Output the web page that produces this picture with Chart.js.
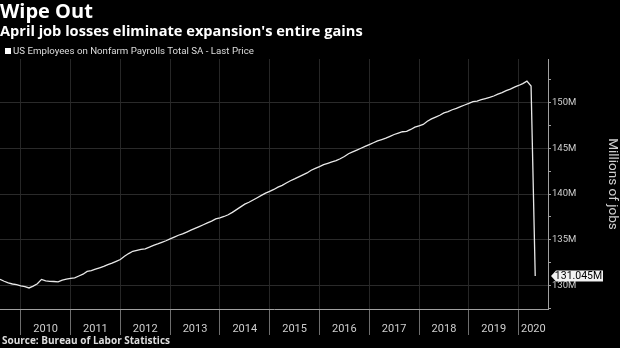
<!DOCTYPE html>
<html>
<head>
<meta charset="utf-8">
<script src="https://cdn.jsdelivr.net/npm/chart.js@4.4.1/dist/chart.umd.min.js"></script>
<style>
  html, body { margin: 0; padding: 0; background: #000; }
  #wrap { position: relative; width: 620px; height: 348px; overflow: hidden; font-family: 'Open Sans', Roboto, sans-serif; color: #fff; }
  #chart { position: absolute; left: 0; top: 0; }
  .title { position: absolute; left: 0px; top: -3px; font-size: 20px; font-weight: 700; white-space: nowrap; }
  .subtitle { position: absolute; left: 0px; top: 20px; font-size: 14.6px; font-weight: 700; white-space: nowrap; }
  .legend { position: absolute; left: 5px; top: 45px; font-family: Roboto, sans-serif; font-size: 9.7px; color: #ddd; white-space: nowrap; }
  .legend i { display: inline-block; width: 6px; height: 6px; background: #fff; margin-right: 2px; vertical-align: 0px; }
  .source { position: absolute; left: 2px; top: 333px; font-size: 10px; font-weight: 700; color: #ddd; white-space: nowrap; }
</style>
</head>
<body>
<div id="wrap">
  <canvas id="chart" width="620" height="348"></canvas>
  <div class="title">Wipe Out</div>
  <div class="subtitle">April job losses eliminate expansion's entire gains</div>
  <div class="legend"><i></i>US Employees on Nonfarm Payrolls Total SA - Last Price</div>
  <div class="source">Source: Bureau of Labor Statistics</div>
</div>
<script>
// Monthly payrolls, millions, Jul 2009 .. Apr 2020
const firstYear = 2009;
const firstMonth = 7;
const payrolls = [
  130.70, 130.48, 130.30, 130.18, 130.10, 129.97,
  129.90, 129.75, 129.95, 130.20, 130.68, 130.52, 130.47, 130.45, 130.42, 130.60, 130.70, 130.80,
  130.85, 131.05, 131.25, 131.55, 131.65, 131.80, 131.95, 132.10, 132.30, 132.45, 132.65, 132.85,
  133.20, 133.50, 133.75, 133.85, 133.95, 134.02, 134.20, 134.40, 134.55, 134.72, 134.90, 135.10,
  135.30, 135.50, 135.65, 135.85, 136.05, 136.25, 136.45, 136.65, 136.85, 137.05, 137.28, 137.40,
  137.55, 137.74, 138.00, 138.30, 138.60, 138.90, 139.10, 139.35, 139.60, 139.85, 140.10, 140.30,
  140.50, 140.75, 140.95, 141.20, 141.45, 141.65, 141.88, 142.10, 142.30, 142.60, 142.80, 143.00,
  143.20, 143.35, 143.50, 143.65, 143.85, 144.10, 144.40, 144.60, 144.80, 145.00, 145.20, 145.40,
  145.60, 145.80, 145.95, 146.10, 146.30, 146.50, 146.65, 146.80, 146.85, 147.05, 147.30, 147.45,
  147.60, 147.95, 148.20, 148.40, 148.60, 148.85, 149.00, 149.20, 149.35, 149.55, 149.72, 149.90,
  150.08, 150.15, 150.30, 150.42, 150.55, 150.70, 150.90, 151.08, 151.28, 151.45, 151.67, 151.85,
  152.05, 152.32, 151.78, 131.045
];
const yearLabels = ['2010', '2011', '2012', '2013', '2014', '2015', '2016', '2017', '2018', '2019', '2020'];
const yTicks = [127.5, 130, 132.5, 135, 137.5, 140, 142.5, 145, 147.5, 150, 152.5];
const lastValueText = '131.045M';

const xMin = 2009.583;
const xMax = 2020.59;
const yMin = 127.45;
const yMax = 154.74;

// points sit at month end, like the terminal does
const points = payrolls.map((v, i) => ({ x: firstYear + (firstMonth + i) / 12, y: v }));
const yearStarts = yearLabels.map(Number);

const yearLabelPlugin = {
  id: 'yearLabels',
  afterDraw(chart) {
    const { ctx, chartArea, scales } = chart;
    ctx.save();
    ctx.fillStyle = '#cfcfcf';
    ctx.font = '11px Roboto, sans-serif';
    ctx.textAlign = 'center';
    ctx.textBaseline = 'middle';
    yearStarts.forEach((yr, i) => {
      const a = Math.max(scales.x.getPixelForValue(yr), chartArea.left);
      const b = Math.min(scales.x.getPixelForValue(yr + 1), chartArea.right);
      ctx.fillText(yearLabels[i], (a + b) / 2, chartArea.bottom + 20);
    });
    ctx.restore();
  }
};

const lastValuePlugin = {
  id: 'lastValue',
  afterDraw(chart) {
    const { ctx, chartArea, scales } = chart;
    const y = scales.y.getPixelForValue(payrolls[payrolls.length - 1]);
    const tip = chartArea.right + 3;
    const left = tip + 5;
    const right = 603;
    const h = 11;
    ctx.save();
    ctx.fillStyle = '#f2f2f2';
    ctx.beginPath();
    ctx.moveTo(tip, y);
    ctx.lineTo(left, y - h / 2);
    ctx.lineTo(right, y - h / 2);
    ctx.lineTo(right, y + h / 2);
    ctx.lineTo(left, y + h / 2);
    ctx.closePath();
    ctx.fill();
    ctx.fillStyle = '#000';
    ctx.font = '10.5px Roboto, sans-serif';
    ctx.textAlign = 'center';
    ctx.textBaseline = 'middle';
    ctx.fillText(lastValueText, (left + right) / 2 - 1, y + 0.5);
    ctx.restore();
  }
};

new Chart(document.getElementById('chart'), {
  type: 'line',
  data: {
    datasets: [{
      label: 'US Employees on Nonfarm Payrolls Total SA - Last Price',
      data: points,
      borderColor: '#e8e8e8',
      borderWidth: 1.3,
      pointRadius: 0,
      tension: 0,
      fill: false,
    }],
  },
  options: {
    responsive: false,
    animation: false,
    layout: { padding: { top: 59, left: 0, right: 0, bottom: 0 } },
    plugins: {
      legend: { display: false },
      tooltip: { enabled: false },
    },
    scales: {
      x: {
        type: 'linear',
        min: xMin,
        max: xMax,
        afterBuildTicks: (s) => { s.ticks = yearStarts.map((v) => ({ value: v })); },
        afterFit: (s) => { s.height = 39; },
        grid: { color: '#262626', tickColor: '#6e6e6e', tickLength: 26, lineWidth: 1 },
        border: { color: '#a0a0a0', width: 1 },
        ticks: { display: false },
      },
      y: {
        position: 'right',
        min: yMin,
        max: yMax,
        afterBuildTicks: (s) => { s.ticks = yTicks.map((v) => ({ value: v })); },
        afterFit: (s) => { s.width = 72; },
        grid: {
          color: (c) => (c.tick && c.tick.value % 5 === 0 ? '#2a2a2a' : 'rgba(0,0,0,0)'),
          tickColor: '#a0a0a0',
          tickLength: 3,
        },
        border: { color: '#a0a0a0', width: 1 },
        ticks: {
          color: '#cfcfcf',
          font: { family: 'Roboto', size: 9.5 },
          padding: 1,
          callback: (v) => (v % 5 === 0 ? v + 'M' : ''),
        },
        title: {
          display: true,
          text: 'Millions of jobs',
          color: '#cfcfcf',
          font: { family: 'Roboto', size: 13.5 },
          padding: { top: 0, bottom: 1 },
        },
      },
    },
  },
  plugins: [yearLabelPlugin, lastValuePlugin],
});
</script>
</body>
</html>
